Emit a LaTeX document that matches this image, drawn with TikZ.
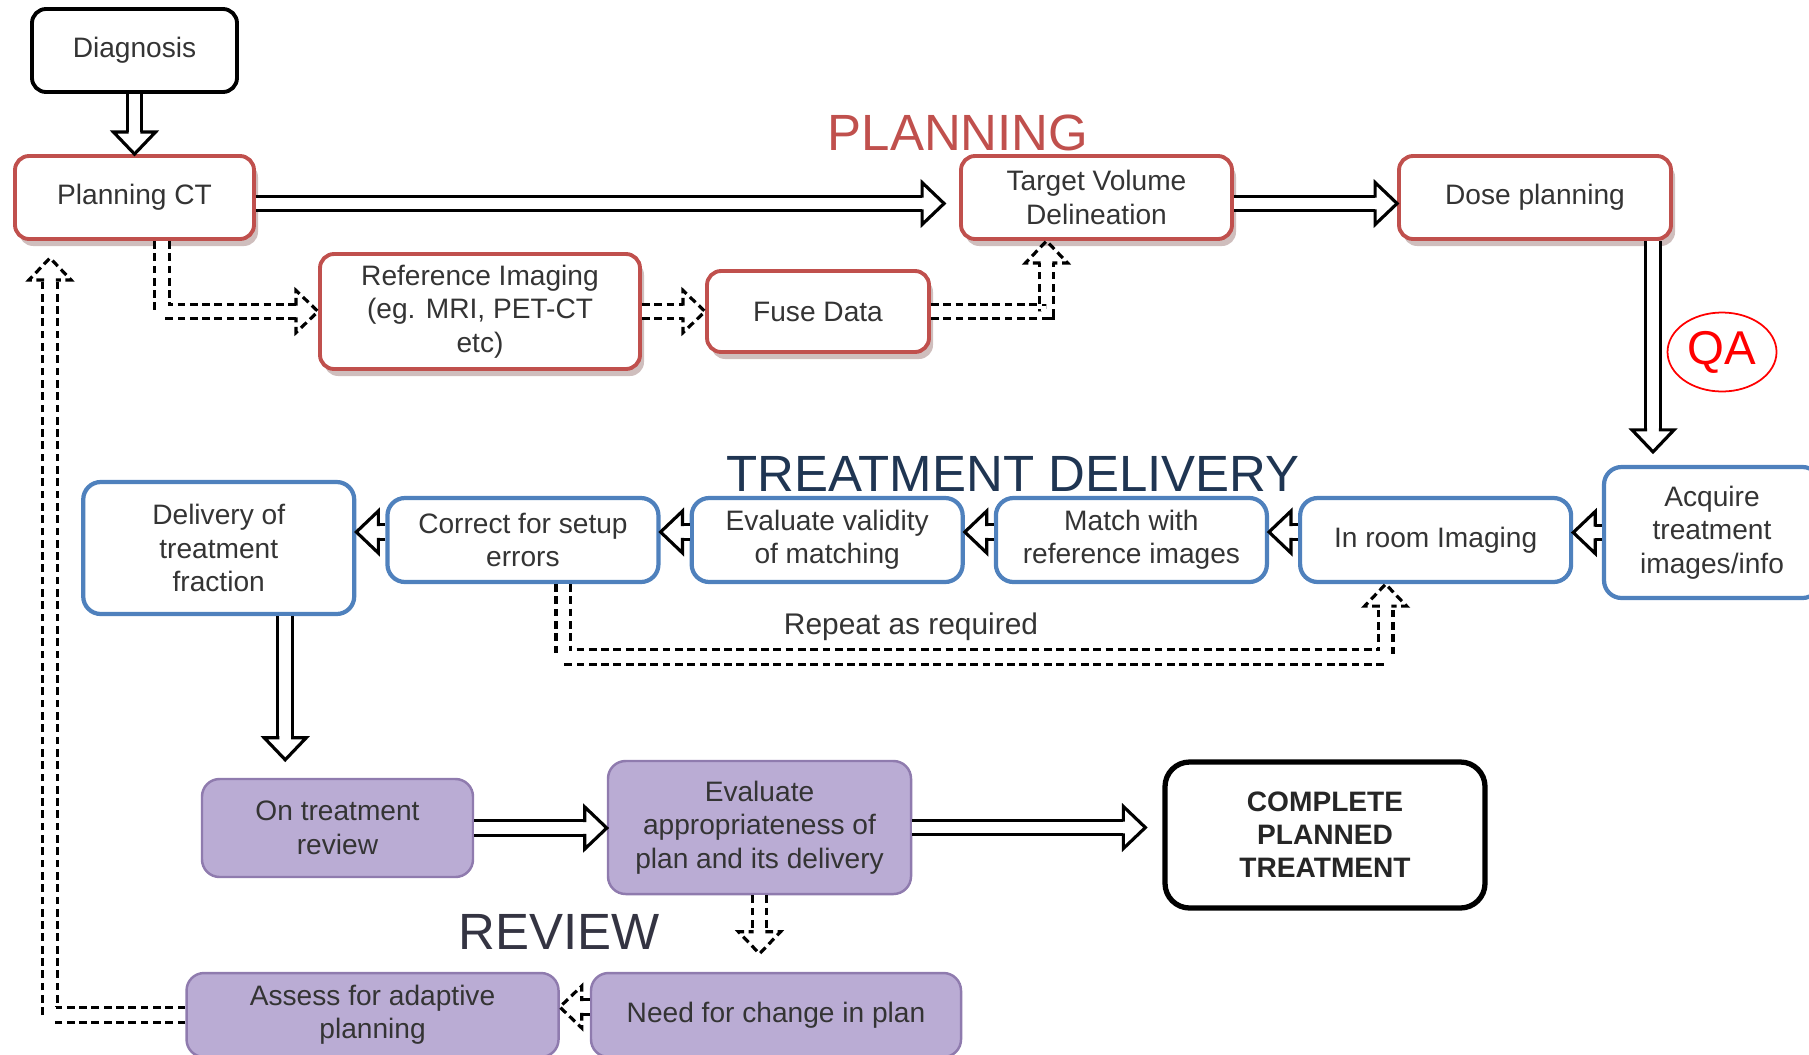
\documentclass[tikz,border=0pt]{standalone}
\usepackage{fontspec}
\setmainfont{Liberation Sans}
\usepackage{xcolor}
\usepackage{tikz}
\usetikzlibrary{shapes.geometric, arrows.meta, positioning, shadows}

\definecolor{planred}{RGB}{192,80,77}
\definecolor{delblue}{RGB}{79,129,189}
\definecolor{revfill}{RGB}{186,172,212}
\definecolor{revline}{RGB}{143,123,174}
\definecolor{txtgray}{RGB}{52,52,52}
\definecolor{navy}{RGB}{31,53,82}
\definecolor{revtitle}{RGB}{52,52,66}

% hollow head for the double-line connectors
\pgfdeclarearrow{
  name = Hollow,
  parameters = {\the\pgfarrowlength,\the\pgfarrowwidth,\the\pgfarrowinset},
  setup code = {
    \pgfarrowssettipend{0pt}
    \pgfarrowssetlineend{-\pgfarrowlength}
    \pgfarrowssetbackend{-\pgfarrowlength}
    \pgfarrowshullpoint{0pt}{0pt}
    \pgfarrowsupperhullpoint{-\pgfarrowlength}{.5\pgfarrowwidth}
    \pgfarrowssavethe\pgfarrowlength
    \pgfarrowssavethe\pgfarrowwidth
    \pgfarrowssavethe\pgfarrowinset
  },
  drawing code = {
    \pgfsetlinewidth{0.9pt}
    \pgfsetmiterjoin
    \pgfsetbuttcap
    \pgfpathmoveto{\pgfqpoint{-\pgfarrowlength}{\pgfarrowinset}}
    \pgfpathlineto{\pgfqpoint{-\pgfarrowlength}{.5\pgfarrowwidth}}
    \pgfpathlineto{\pgfqpoint{0pt}{0pt}}
    \pgfpathlineto{\pgfqpoint{-\pgfarrowlength}{-.5\pgfarrowwidth}}
    \pgfpathlineto{\pgfqpoint{-\pgfarrowlength}{-\pgfarrowinset}}
    \pgfusepathqstroke
  },
  defaults = {length=2.2mm, width=4.2mm, inset=1.65pt}
}

\begin{document}
\begin{tikzpicture}[
    x = 1mm, y = -1mm,
    node distance = 2.9mm,
    box/.style = {
        rectangle, rounded corners=4pt,
        minimum width=27.1mm, minimum height=8.3mm,
        font=\fontsize{8}{9.5}\selectfont, text=txtgray, align=center,
        inner sep=2pt
    },
    plan/.style    = {box, draw=planred, line width=1.1pt, fill=white,
                      drop shadow={shadow xshift=0.4mm, shadow yshift=-0.7mm,
                                   fill=planred!50!black, opacity=0.3}},
    deliver/.style = {box, draw=delblue, line width=1.2pt, fill=white, rounded corners=5pt},
    review/.style  = {box, draw=revline, line width=0.7pt, fill=revfill, rounded corners=5pt},
    plain/.style   = {box, draw=black, line width=1.1pt, fill=white},
    title/.style   = {font=\fontsize{14.5}{16}\selectfont, inner sep=0pt},
    lbl/.style     = {font=\fontsize{8.5}{10}\selectfont, text=txtgray, inner sep=0pt},
    dbl/.style     = {double, double distance=3.3pt, line width=0.9pt, -{Hollow}},
    dbldash/.style = {dbl, dash pattern=on 2.2pt off 1.3pt}
]
\useasboundingbox (0,0) rectangle (180.9,105.4);

%% Planning Nodes
\node[plain, minimum width=20.5mm] (diag) at (13.45,5.05) {Diagnosis};
\node[plan, minimum width=23.9mm] (pct) at (13.45,19.75) {Planning CT};
\node[plan, minimum width=32mm, minimum height=11.5mm] (refimg) at (48,31.15) {Reference Imaging\\(eg. MRI, PET-CT\\etc)};
\node[plan, minimum width=22.2mm, minimum height=8.1mm] (fuse) at (81.8,31.15) {Fuse Data};
\node[plan] (tvd) at (109.65,19.75) {Target Volume\\Delineation};
\node[plan, minimum width=27.2mm] (dose) at (153.5,19.75) {Dose planning};
\node[title, text=planred] (plantitle) at (95.8,13.3) {PLANNING};
\node[ellipse, draw=red, line width=0.5pt, minimum width=10.9mm, minimum height=7.9mm,
      inner sep=0pt, text=red, font=\fontsize{13.5}{15}\selectfont] (qa) at (172.2,35.2) {QA};

%% Delivery Nodes
\node[deliver, minimum width=21.6mm, minimum height=13.1mm] (acq) at (171.2,53.25) {Acquire\\treatment\\images/info};
\node[deliver, minimum height=8.4mm] (ir) at (143.56,54) {In room Imaging};
\node[deliver, minimum height=8.4mm, left=of ir]  (mwr) {Match with\\reference images};
\node[deliver, minimum height=8.4mm, left=of mwr] (evm) {Evaluate validity\\of matching};
\node[deliver, minimum height=8.4mm, left=of evm] (cse) {Correct for setup\\errors};
\node[deliver, minimum height=13.2mm, left=of cse, yshift=-0.8mm] (deliv) {Delivery of\\treatment\\fraction};
\node[title, text=navy] (deltitle) at (101.3,47.4) {TREATMENT DELIVERY};
\node[lbl] (rpt) at (91.1,62.65) {Repeat as required};

%% Review Nodes
\node[review, minimum height=9.8mm] (otr) at (33.75,82.8) {On treatment\\review};
\node[review, minimum width=30.3mm, minimum height=13.3mm] (eap) at (75.95,82.75) {Evaluate\\appropriateness of\\plan and its delivery};
\node[plain, minimum width=32mm, minimum height=14.6mm, rounded corners=7pt, line width=1.5pt,
      font=\fontsize{8}{9.4}\selectfont\bfseries, text=black!85] (cpt) at (132.5,83.5) {COMPLETE\\PLANNED\\TREATMENT};
\node[review, minimum width=37mm, minimum height=8.4mm] (need) at (77.6,101.5) {Need for change in plan};
\node[review, minimum width=37.2mm, minimum height=8.4mm, left=3.0mm of need] (assess) {Assess for adaptive\\planning};
\node[title, text=revtitle] (revtitle) at (55.95,93.2) {REVIEW};

%% Planning Arrows
\draw[dbl] (diag) -- (pct);
\draw[dbl, shorten >=1.5mm] ([yshift=-.6mm]pct.east) -- ([yshift=-.6mm]pct.east -| tvd.west);
\draw[dbl] ([yshift=-.6mm]tvd.east) -- ([yshift=-.6mm]tvd.east -| dose.west);
\draw[dbldash] ([xshift=2.75mm]pct.south) |- (refimg);
\draw[dbldash] (refimg) -- (fuse);
\draw[dbldash] (fuse) -| ([xshift=-5mm]tvd.south);
\coordinate (qatop) at ([xshift=11.8mm]dose.south);
\draw[dbl, shorten >=1.3mm] (qatop) -- (qatop |- acq.north);

%% Delivery Arrows
\draw[dbl] (acq) -- (acq -| ir.east);
\draw[dbl] ([yshift=.8mm]ir.west) -- ([yshift=.8mm]mwr.east);
\draw[dbl] ([yshift=.8mm]mwr.west) -- ([yshift=.8mm]evm.east);
\draw[dbl] ([yshift=.8mm]evm.west) -- ([yshift=.8mm]cse.east);
\draw[dbl] ([yshift=.8mm]cse.west) -- ([yshift=.8mm]cse.west -| deliv.east);
\draw[dbldash] ([xshift=4.05mm]cse.south) -- ++(0,7.3) -| ([xshift=-5mm]ir.south);

%% Review Arrows
\coordinate (dv) at ([xshift=6.65mm]deliv.south);
\draw[dbl, shorten >=1.8mm] (dv) -- (dv |- otr.north);
\draw[dbl] (otr) -- (otr -| eap.west);
\draw[dbl, shorten >=1.7mm] (eap) -- (eap -| cpt.west);
\draw[dbldash, shorten >=1.8mm] (eap) -- (eap |- need.north);
\draw[dbldash] ([yshift=.8mm]need.west) -- ([yshift=.8mm]assess.east);
\draw[dbldash, shorten >=1.7mm] (assess) -| ([xshift=-8.45mm]pct.south);

\end{tikzpicture}
\end{document}
